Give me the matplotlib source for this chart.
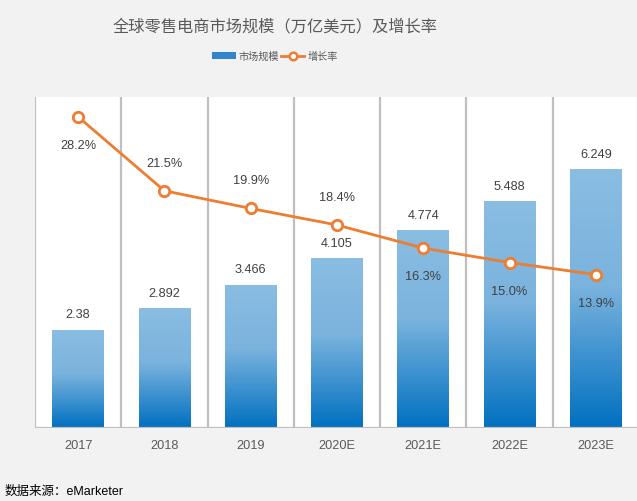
import numpy as np
import matplotlib.pyplot as plt
from matplotlib.colors import LinearSegmentedColormap
from matplotlib.lines import Line2D
from matplotlib.patches import Patch

plt.rcParams['font.family'] = ['Liberation Sans', 'Noto Sans CJK SC', 'DejaVu Sans']

years = ['2017', '2018', '2019', '2020E', '2021E', '2022E', '2023E']
market_size = [2.38, 2.892, 3.466, 4.105, 4.774, 5.488, 6.249]
growth = [28.2, 21.5, 19.9, 18.4, 16.3, 15.0, 13.9]
# label above (+) or below (-) the marker
growth_pos = [-1, 1, 1, 1, -1, -1, -1]

bg = '#f2f2f2'
grid_c = '#bfbfbf'
orange = '#ed7d31'
txt = '#404040'

fig = plt.figure(figsize=(6.37, 5.02), dpi=100, facecolor=bg)
ax = fig.add_axes([35 / 637, 1 - 429 / 502, 604 / 637, 331 / 502])
ax.set_facecolor('white')

x = np.arange(len(years))
bars = ax.bar(x, market_size, width=0.6, color='none', zorder=2)

# gradient fill for each bar: light on top, deep blue at the bottom
cmap = LinearSegmentedColormap.from_list(
    'bar', [(0, '#0070c0'), (0.55, '#7ab3de'), (1, '#8abde2')])
grad = np.linspace(0, 1, 256).reshape(-1, 1)
for b in bars:
    x0, w, h = b.get_x(), b.get_width(), b.get_height()
    im = ax.imshow(grad, cmap=cmap, aspect='auto', origin='lower',
                   extent=[x0, x0 + w, 0, h], zorder=2)
    im.set_clip_path(b)
    ax.text(x0 + w / 2, h + 0.22, f'{h:g}', ha='center', va='bottom',
            fontsize=9.2, color=txt)

ax.set_xlim(-0.5, len(years) - 0.5)
ax.set_ylim(0, 8)
for i in range(len(years)):
    ax.axvline(i - 0.5, color=grid_c, lw=1.6, zorder=1)
ax.axhline(0, color=grid_c, lw=1.6, zorder=3)
for s in ax.spines.values():
    s.set_visible(False)
ax.set_yticks([])
ax.set_xticks(x)
ax.set_xticklabels(years, fontsize=9.2, color='#595959')
ax.tick_params(axis='x', length=0, pad=8)

ax2 = ax.twinx()
ax2.set_ylim(0, 30)
ax2.plot(x, growth, color=orange, lw=2, marker='o', ms=7.5,
         markerfacecolor='white', markeredgecolor=orange, markeredgewidth=2,
         zorder=5)
for xi, g, p in zip(x, growth, growth_pos):
    ax2.annotate(f'{g:.1f}%', (xi, g), xytext=(0, 13 * p + (-3 if p < 0 else 3)),
                 textcoords='offset points', ha='center',
                 va='bottom' if p > 0 else 'top', fontsize=9.2, color=txt)
ax2.set_yticks([])
for s in ax2.spines.values():
    s.set_visible(False)

fig.text(275 / 637, 1 - 27 / 502, '全球零售电商市场规模（万亿美元）及增长率',
         ha='center', va='center', fontsize=11.7, color='#595959')

handles = [Patch(facecolor='#2f86cc', edgecolor='none'),
           Line2D([], [], color=orange, lw=2, marker='o', ms=5.5,
                  markerfacecolor='white', markeredgecolor=orange,
                  markeredgewidth=1.8)]
fig.legend(handles, ['市场规模', '增长率'], loc='center',
           bbox_to_anchor=(275 / 637, 1 - 57 / 502), ncol=2, frameon=False,
           fontsize=7.3, handlelength=2.3, handleheight=0.6, handletextpad=0.3,
           columnspacing=0.2, labelcolor='#595959')

fig.text(5 / 637, 1 - 492 / 502, '数据来源：eMarketer', ha='left',
         va='center', fontsize=9, color='black')

fig.savefig('out.png', dpi=100, facecolor=bg)
